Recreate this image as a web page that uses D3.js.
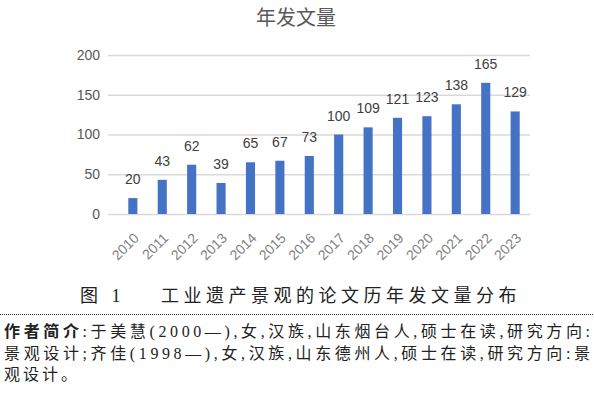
<!DOCTYPE html>
<html>
<head>
<meta charset="utf-8">
<script src="https://cdn.jsdelivr.net/npm/d3@7"></script>
<style>
  body { margin: 0; background: #fff; }
  svg { display: block; }
</style>
</head>
<body>
<svg id="chart" width="594" height="394"></svg>
<script>
// chart values
const years = ["2010", "2011", "2012", "2013", "2014", "2015", "2016",
               "2017", "2018", "2019", "2020", "2021", "2022", "2023"];
const counts = [20, 43, 62, 39, 65, 67, 73, 100, 109, 121, 123, 138, 165, 129];
const yTicks = [0, 50, 100, 150, 200];

const chartTitle = "年发文量";
const caption = "图 1    工业遗产景观的论文历年发文量分布";
const noteLines = [
    ["作者简介", ":于美慧(2000—),女,汉族,山东烟台人,硕士在读,研究方向:"],
    ["", "景观设计;齐佳(1998—),女,汉族,山东德州人,硕士在读,研究方向:景"],
    ["", "观设计。"]
];

const cjkFont = "'Noto Sans CJK SC', 'Noto Sans', sans-serif";
const serifMix = "'Liberation Serif', 'Noto Sans CJK SC', serif";
const numFont = "'Liberation Sans', Arial, sans-serif";

const svg = d3.select("#chart");

// plot area, roughly where the excel chart sits
const plot = { left: 118, right: 530, top: 55, bottom: 214 };

const x = d3.scaleBand()
    .domain(years)
    .range([plot.left, plot.right])
    .paddingInner(0.69)
    .paddingOuter(0.35);

const y = d3.scaleLinear()
    .domain([0, 200])
    .range([plot.bottom, plot.top]);

// title
svg.append("text")
    .attr("x", 296)
    .attr("y", 25)
    .attr("text-anchor", "middle")
    .style("font-family", cjkFont)
    .style("font-size", "20px")
    .style("fill", "#595959")
    .text(chartTitle);

// gridlines + y labels
const yAxis = d3.axisLeft(y)
    .tickValues(yTicks)
    .tickSize(-(plot.right - plot.left + 10))
    .tickPadding(8);

const yg = svg.append("g")
    .attr("transform", `translate(${plot.left - 10},0)`)
    .call(yAxis);
yg.select(".domain").remove();
yg.selectAll(".tick line")
    .attr("stroke", "#d9d9d9")
    .attr("stroke-width", 1.3);
yg.selectAll(".tick text")
    .style("font-family", numFont)
    .style("font-size", "14px")
    .style("fill", "#595959");

// bars
svg.append("g")
    .selectAll("rect")
    .data(counts)
    .enter()
    .append("rect")
    .attr("x", (d, i) => x(years[i]))
    .attr("y", d => y(d))
    .attr("width", x.bandwidth())
    .attr("height", d => y(0) - y(d))
    .attr("fill", "#4472c4");

// value labels above bars
svg.append("g")
    .selectAll("text")
    .data(counts)
    .enter()
    .append("text")
    .attr("x", (d, i) => x(years[i]) + x.bandwidth() / 2)
    .attr("y", d => y(d) - 14)
    .attr("text-anchor", "middle")
    .style("font-family", numFont)
    .style("font-size", "14px")
    .style("fill", "#404040")
    .text(d => d);

// x labels, rotated
const xAxis = d3.axisBottom(x).tickSize(0).tickPadding(0);
const xg = svg.append("g")
    .attr("transform", `translate(0,${plot.bottom})`)
    .call(xAxis);
xg.select(".domain").remove();
xg.selectAll(".tick text")
    .attr("text-anchor", "end")
    .attr("dy", 0)
    .attr("transform", "translate(7,25) rotate(-45)")
    .style("font-family", numFont)
    .style("font-size", "14px")
    .style("fill", "#7f7f7f");

// figure caption
svg.append("text")
    .attr("x", 80)
    .attr("y", 302)
    .style("font-family", serifMix)
    .style("font-size", "18px")
    .style("letter-spacing", "4.5px")
    .style("fill", "#222")
    .attr("xml:space", "preserve")
    .text(caption);

// dotted rule
svg.append("line")
    .attr("x1", 0).attr("x2", 594)
    .attr("y1", 314.5).attr("y2", 314.5)
    .attr("stroke", "#333")
    .attr("stroke-width", 1)
    .attr("stroke-dasharray", "1,1");

// author note
noteLines.forEach((ln, i) => {
    const t = svg.append("text")
        .attr("x", 4)
        .attr("y", 337 + i * 21.5)
        .style("font-family", serifMix)
        .style("font-size", "16px")
        .style("fill", "#222");
    if (i < 2) t.attr("textLength", 586).attr("lengthAdjust", "spacing");
    else t.style("letter-spacing", "3px");
    if (ln[0]) t.append("tspan").style("font-weight", "bold").text(ln[0]);
    t.append("tspan").text(ln[1]);
});
</script>
</body>
</html>
